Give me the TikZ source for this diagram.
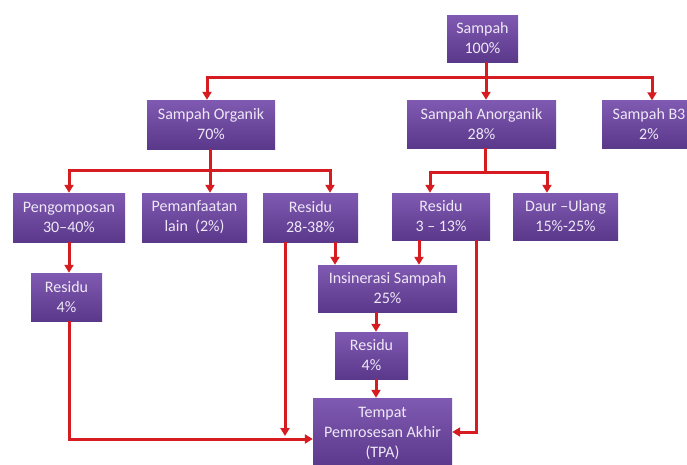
\documentclass[tikz,border=0pt]{standalone}
\usepackage{fontspec}
\setmainfont{Carlito}
\usetikzlibrary{arrows.meta}
\definecolor{boxtop}{RGB}{128,90,178}
\definecolor{boxbot}{RGB}{90,56,138}
\definecolor{boxtext}{RGB}{238,232,246}
\definecolor{lnred}{RGB}{214,28,32}
\begin{document}
\begin{tikzpicture}[x=1pt,y=-1pt,
  box/.style={rectangle, top color=boxtop, bottom color=boxbot, draw=none, inner sep=0pt,
    align=center, text=boxtext, font=\fontsize{16}{20}\selectfont},
  ln/.style={draw=lnred, line width=3pt},
  arr/.style={ln, -{Triangle[length=8pt,width=9pt]}}]
\useasboundingbox (0,0) rectangle (687,464);
\fill[white] (0,0) rectangle (687,464);

% nodes
\node[box, minimum width=71pt, minimum height=47pt] (top) at (482.5,38.5) {Sampah\\100\%};
\node[box, minimum width=128pt, minimum height=49pt] (org) at (211,124.5) {Sampah Organik\\70\%};
\node[box, minimum width=149pt, minimum height=48pt] (anorg) at (481.5,124) {Sampah Anorganik\\28\%};
\node[box, minimum width=94pt, minimum height=48pt] (b3) at (649,124.5) {Sampah B3\\2\%};
\node[box, minimum width=112pt, minimum height=49pt] (peng) at (69,217.5) {Pengomposan\\30--40\%};
\node[box, minimum width=105pt, minimum height=49pt] (peman) at (194.5,217.5) {Pemanfaatan\\lain~~(2\%)};
\node[box, minimum width=95pt, minimum height=49pt] (res1) at (310.5,217.5) {Residu\\28-38\%};
\node[box, minimum width=98pt, minimum height=47pt] (res2) at (441,216.5) {Residu\\3 -- 13\%};
\node[box, minimum width=105pt, minimum height=47pt] (daur) at (565.5,216.5) {Daur --Ulang\\15\%-25\%};
\node[box, minimum width=71pt, minimum height=48pt] (res3) at (66.5,297) {Residu\\4\%};
\node[box, minimum width=139pt, minimum height=47pt] (ins) at (387.5,288.5) {Insinerasi Sampah\\25\%};
\node[box, minimum width=73pt, minimum height=47pt] (res4) at (371.5,355.5) {Residu\\4\%};
\node[box, minimum width=139pt, minimum height=70pt] (tpa) at (382.5,433) {Tempat\\Pemrosesan Akhir\\(TPA)};

% junction coordinates
\coordinate (j0) at (486,77);
\coordinate (jL) at (207,77);
\coordinate (jR) at (652,77);
\coordinate (k0) at (210,170);
\coordinate (k1) at (69,170);
\coordinate (k2) at (330,170);
\coordinate (m0) at (485,172);
\coordinate (m1) at (430,172);
\coordinate (m2) at (547,172);
\coordinate (p) at (69,0);
\coordinate (q) at (69,439);
\coordinate (r) at (285,436);
\coordinate (s) at (335,0);
\coordinate (t) at (419,0);
\coordinate (u) at (476,432);
\coordinate (v) at (376,0);

% connectors
\draw[arr] (top.south -| j0) -- (anorg.north -| j0);
\draw[arr] (j0) -| (org.north -| jL);
\draw[arr] (j0) -| (b3.north -| jR);

\draw[arr] (org.south -| k0) -- (peman.north -| k0);
\draw[arr] (k0) -| (peng.north -| k1);
\draw[arr] (k0) -| (res1.north -| k2);

\draw[ln] (anorg.south -| m0) -- (m0);
\draw[arr] (m0) -| (res2.north -| m1);
\draw[arr] (m0) -| (daur.north -| m2);

\draw[arr] (peng.south -| p) -- (res3.north -| p);
\draw[arr] (res3.south -| q) |- (tpa.west |- q);
\draw[arr] (res1.south -| r) -- (r);
\draw[arr] (res1.south -| s) -- (ins.north -| s);
\draw[arr] (res2.south -| t) -- (ins.north -| t);
\draw[arr] (res2.south -| u) |- (tpa.east |- u);
\draw[arr] (ins.south -| v) -- (res4.north -| v);
\draw[arr] (res4.south -| v) -- (tpa.north -| v);
\end{tikzpicture}
\end{document}
